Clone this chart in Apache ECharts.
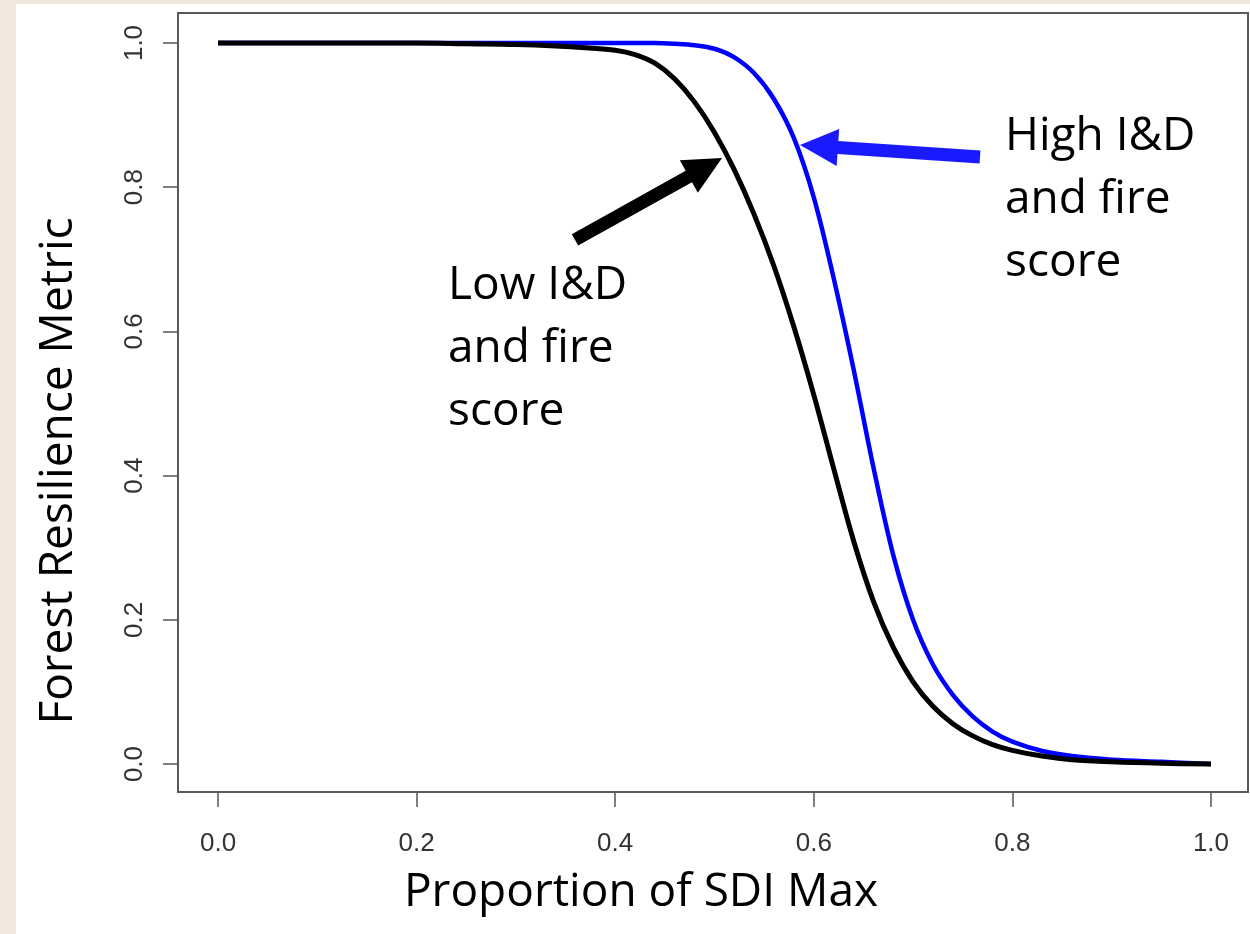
<!DOCTYPE html>
<html>
<head>
<meta charset="utf-8">
<script src="https://cdn.jsdelivr.net/npm/echarts@6/dist/echarts.min.js"></script>
<style>
  html, body { margin: 0; padding: 0; background: #f2e7dc; }
  #chart { position: absolute; left: 16px; top: 4px; width: 1234px; height: 930px; background: #ffffff; }
</style>
</head>
<body>
<div id="chart"></div>
<script>
// ---- data ----
const xTicks = [0, 0.2, 0.4, 0.6, 0.8, 1.0];
const yTicks = [0, 0.2, 0.4, 0.6, 0.8, 1.0];

const lowX = [0, 0.1, 0.2, 0.25, 0.3, 0.34, 0.37, 0.4, 0.42, 0.44, 0.46, 0.48, 0.5, 0.52, 0.54, 0.56, 0.58, 0.6, 0.62, 0.64, 0.66, 0.68, 0.7, 0.72, 0.74, 0.76, 0.78, 0.8, 0.83, 0.86, 0.9, 0.95, 1.0];
const lowY = [1, 1, 1, 0.999, 0.998, 0.996, 0.9935, 0.99, 0.984, 0.972, 0.950, 0.918, 0.876, 0.824, 0.762, 0.690, 0.606, 0.512, 0.410, 0.310, 0.226, 0.162, 0.114, 0.080, 0.056, 0.039, 0.027, 0.019, 0.011, 0.006, 0.003, 0.001, 0];

const highX = [0, 0.1, 0.2, 0.3, 0.4, 0.44, 0.46, 0.48, 0.5, 0.52, 0.54, 0.56, 0.58, 0.6, 0.62, 0.64, 0.66, 0.68, 0.7, 0.72, 0.74, 0.76, 0.78, 0.8, 0.83, 0.86, 0.9, 0.95, 1.0];
const highY = [1, 1, 1, 1, 1, 1, 0.999, 0.997, 0.992, 0.980, 0.958, 0.922, 0.868, 0.786, 0.674, 0.548, 0.412, 0.290, 0.200, 0.138, 0.096, 0.066, 0.045, 0.031, 0.018, 0.011, 0.006, 0.003, 0];

// annotation arrows in data coordinates: [tailX, tailY, tipX, tipY]
const lowArrow = [[0.3595, 0.727, 0.5076, 0.8405]];
const highArrow = [[0.7674, 0.8419, 0.5861, 0.8585]];

const lowLabel = ['Low I&D', 'and fire', 'score'];
const highLabel = ['High I&D', 'and fire', 'score'];
const xTitle = 'Proportion of SDI Max';
const yTitle = 'Forest Resilience Metric';

// ---- chart ----
const chart = echarts.init(document.getElementById('chart'), null, { renderer: 'canvas' });
const zip = (xs, ys) => xs.map((x, i) => [x, ys[i]]);

function arrowItem(color) {
  return function (params, api) {
    const p0 = api.coord([api.value(0), api.value(1)]);
    const p1 = api.coord([api.value(2), api.value(3)]);
    const dx = p1[0] - p0[0], dy = p1[1] - p0[1];
    const len = Math.sqrt(dx * dx + dy * dy);
    const ux = dx / len, uy = dy / len;
    const nx = -uy, ny = ux;
    const w = 13, L = 38, H = 37;
    const bx = p1[0] - ux * L, by = p1[1] - uy * L;
    const pts = [
      [p0[0] + nx * w / 2, p0[1] + ny * w / 2],
      [bx + nx * w / 2, by + ny * w / 2],
      [bx + nx * H / 2, by + ny * H / 2],
      [p1[0], p1[1]],
      [bx - nx * H / 2, by - ny * H / 2],
      [bx - nx * w / 2, by - ny * w / 2],
      [p0[0] - nx * w / 2, p0[1] - ny * w / 2]
    ];
    return { type: 'polygon', shape: { points: pts }, style: { fill: color } };
  };
}

const bigFont = 'Open Sans';
const bigSize = 46;
const fontStr = bigSize + 'px "' + bigFont + '"';
function labelTexts(lines, x, y0, step) {
  return lines.map((t, i) => ({
    type: 'text',
    x: x,
    y: y0 + i * step,
    style: { text: t, font: fontStr, fill: '#000', textAlign: 'left', textVerticalAlign: 'middle' }
  }));
}

const option = {
  animation: false,
  backgroundColor: '#ffffff',
  grid: {
    left: 162, top: 9, width: 1070, height: 779,
    show: true, borderColor: '#5a5a5a', borderWidth: 2, backgroundColor: '#ffffff'
  },
  xAxis: {
    type: 'value',
    min: -0.0403, max: 1.0373,
    axisLine: { show: false, onZero: false },
    splitLine: { show: false },
    axisTick: { show: true, length: 15, customValues: xTicks, lineStyle: { color: '#555', width: 1.5 } },
    axisLabel: {
      customValues: xTicks, margin: 39,
      fontFamily: 'Liberation Sans', fontSize: 26, color: '#333',
      formatter: v => v.toFixed(1)
    }
  },
  yAxis: {
    type: 'value',
    min: -0.0388, max: 1.0416,
    axisLine: { show: false, onZero: false },
    splitLine: { show: false },
    axisTick: { show: true, length: 15, customValues: yTicks, lineStyle: { color: '#555', width: 1.5 } },
    axisLabel: {
      customValues: yTicks, margin: 30, rotate: 90,
      fontFamily: 'Liberation Sans', fontSize: 26, color: '#333',
      formatter: v => v.toFixed(1)
    }
  },
  series: [
    {
      name: 'High', type: 'line', data: zip(highX, highY), showSymbol: false, symbol: 'none',
      smooth: 0.35, lineStyle: { color: '#0000ff', width: 4.5, join: 'round' }, z: 2
    },
    {
      name: 'Low', type: 'line', data: zip(lowX, lowY), showSymbol: false, symbol: 'none',
      smooth: 0.35, lineStyle: { color: '#000000', width: 5, join: 'round' }, z: 3
    },
    {
      type: 'custom', data: lowArrow, renderItem: arrowItem('#000000'),
      encode: { x: [0, 2], y: [1, 3] }, clip: false, z: 4
    },
    {
      type: 'custom', data: highArrow, renderItem: arrowItem('#1a1aff'),
      encode: { x: [0, 2], y: [1, 3] }, clip: false, z: 4
    }
  ],
  graphic: [].concat(
    labelTexts(lowLabel, 448 - 16, 286 - 4, 63),
    labelTexts(highLabel, 1005 - 16, 137 - 4, 63),
    [
      {
        type: 'text', x: 641 - 16, y: 893 - 4,
        style: { text: xTitle, font: fontStr, fill: '#000', textAlign: 'center', textVerticalAlign: 'middle' }
      },
      {
        type: 'text', x: 59 - 16, y: 471 - 4, rotation: Math.PI / 2,
        style: { text: yTitle, font: fontStr, fill: '#000', textAlign: 'center', textVerticalAlign: 'middle' }
      }
    ]
  )
};
chart.setOption(option);
</script>
</body>
</html>
